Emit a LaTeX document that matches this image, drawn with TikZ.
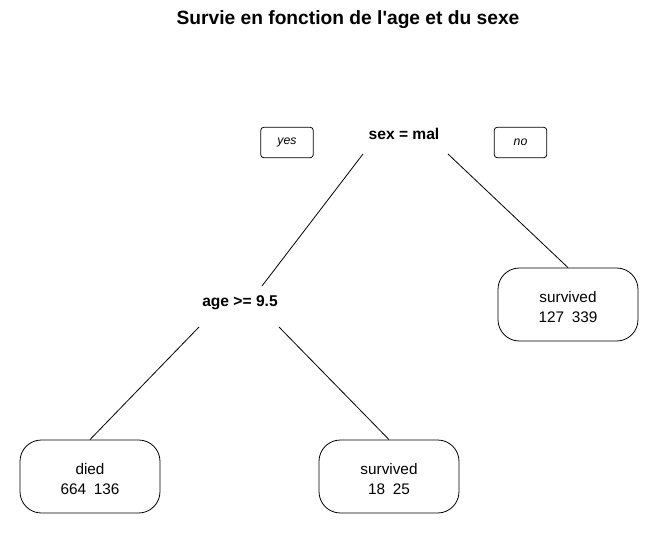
\documentclass[tikz,border=0pt]{standalone}
\usepackage{fontspec}
\setmainfont{Liberation Sans}
\usetikzlibrary{calc}
\begin{document}
\begin{tikzpicture}[x=0.75pt,y=-0.75pt,
  edge/.style={draw=black,line width=0.6pt},
  split/.style={font=\bfseries\fontsize{11.7}{14}\selectfont,inner sep=0pt},
  leaf/.style={draw=black,line width=0.6pt,rounded corners=16pt,minimum width=105pt,minimum height=54.75pt,align=center,font=\fontsize{11.5}{15}\selectfont,inner sep=0pt},
  lab/.style={draw=black,line width=0.6pt,rounded corners=2.5pt,minimum width=39.5pt,minimum height=23pt,inner sep=0pt,font=\itshape\fontsize{9.2}{11}\selectfont}]
\useasboundingbox (0,0) rectangle (665,533);
\node[font=\bfseries\fontsize{14.4}{17}\selectfont] (title) at (348,20) {Survie en fonction de l\textquotesingle age et du sexe};
\node[split] (sex) at (404,134) {sex = mal};
\node[lab] (yes) at (287,142.5) {yes};
\node[lab] (no) at (520.5,142.5) {no};
\node[split] (age) at (240,303) {age >= 9.5};
\node[leaf] (rleaf) at (568,304.5) {\rule{0pt}{12pt}survived\\127\enspace 339};
\node[leaf] (dleaf) at (90,476.5) {\rule{0pt}{12pt}died\\664\enspace 136};
\node[leaf] (sleaf) at (389,476.5) {\rule{0pt}{12pt}survived\\18\enspace 25};
\draw[edge] ($(sex)+(-41,20)$) -- ($(age)+(22,-17)$);
\draw[edge] ($(sex)+(44,20)$) -- (rleaf.north);
\draw[edge] ($(age)+(-41,24)$) -- (dleaf.north);
\draw[edge] ($(age)+(39,24)$) -- (sleaf.north);
\end{tikzpicture}
\end{document}
